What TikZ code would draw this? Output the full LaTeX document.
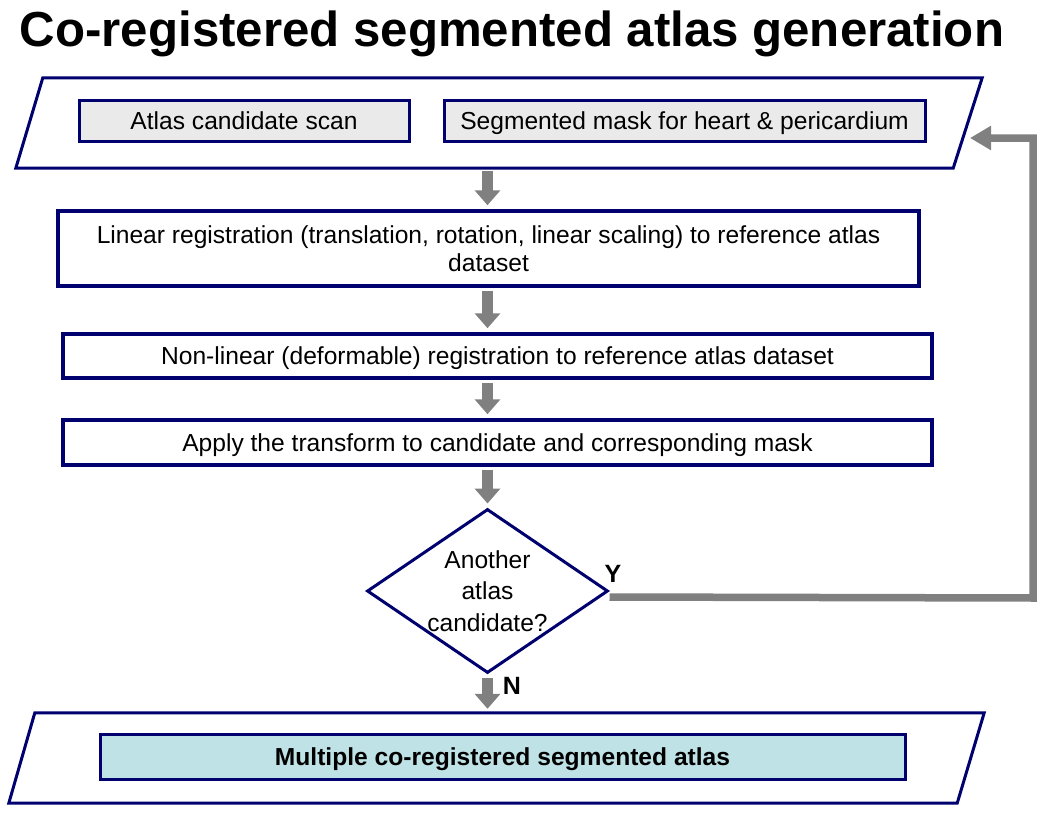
\documentclass[tikz,border=0pt]{standalone}
\usepackage{fontspec}
\setmainfont{Liberation Sans}
\usetikzlibrary{shapes.geometric,arrows.meta}
\definecolor{navy}{RGB}{0,0,110}
\definecolor{arrgray}{RGB}{128,128,128}
\definecolor{boxgray}{RGB}{234,234,234}
\definecolor{resteal}{RGB}{190,226,229}
\begin{document}
\begin{tikzpicture}[x=1pt,y=-1pt,
  txt/.style={font=\fontsize{24.6}{28}\selectfont},
  oneline/.style={text height=17.6pt, text depth=0pt},
  box/.style={draw=navy, line width=3.5pt, fill=white, inner sep=0pt, align=center, txt},
  inbox/.style={draw=navy, line width=3pt, fill=boxgray, inner sep=0pt, align=center, txt, oneline},
  paraframe/.style={draw=none, inner sep=0pt},
  paraline/.style={draw=navy, line width=3pt, line join=miter},
  flow/.style={draw=arrgray, line width=11pt, -{Triangle[width=25pt,length=15pt]}, shorten <=3pt, shorten >=4pt},
  loopline/.style={draw=arrgray, line width=7.5pt, -{Triangle[width=23pt,length=21pt]}},
  yn/.style={font=\bfseries\fontsize{25}{25}\selectfont}]
\useasboundingbox (0,0) rectangle (1050,816);

\node[font=\bfseries\fontsize{49.2}{50}\selectfont, anchor=base] (title) at (512,47) {Co-registered segmented atlas generation};

\node[paraframe, minimum width=966pt, minimum height=90pt] (top) at (499,123) {};
\draw[paraline] ([xshift=27pt]top.north west) -- (top.north east) -- ([xshift=-29pt]top.south east) -- (top.south west) -- cycle;
\node[inbox, minimum width=330pt, minimum height=41pt] (scan) at (244,120.5) {Atlas candidate scan};
\node[inbox, minimum width=481pt, minimum height=41pt] (mask) at (684.5,120.5) {Segmented mask for heart \& pericardium};

\node[box, minimum width=861pt, minimum height=75pt] (lin) at (488.5,248.5) {Linear registration (translation, rotation, linear scaling) to reference atlas\\dataset};
\node[box, oneline, minimum width=869pt, minimum height=44pt] (nonlin) at (497.5,356) {Non-linear (deformable) registration to reference atlas dataset};
\node[box, oneline, minimum width=869pt, minimum height=45pt] (apply) at (497.5,442.5) {Apply the transform to candidate and corresponding mask};

\node[diamond, draw=navy, line width=3pt, fill=white, inner sep=0pt, minimum width=241pt, minimum height=164pt] (d) at (487.5,591) {};
\node[align=center, font=\fontsize{24.6}{31.5}\selectfont] (dtext) at (d.center) {Another\\atlas\\candidate?};

\node[paraframe, minimum width=975pt, minimum height=90pt] (bot) at (496.5,758) {};
\draw[paraline] ([xshift=26pt]bot.north west) -- (bot.north east) -- ([xshift=-27pt]bot.south east) -- (bot.south west) -- cycle;
\node[inbox, fill=resteal, minimum width=805pt, minimum height=45pt, font=\bfseries\fontsize{24.6}{28}\selectfont] (res) at (502.5,756.5) {Multiple co-registered segmented atlas};

\draw[flow] (top.south -| d.north) -- (lin.north -| d.north);
\draw[flow] (lin.south -| d.north) -- (nonlin.north -| d.north);
\draw[flow] (nonlin.south -| d.north) -- (apply.north -| d.north);
\draw[flow] (apply.south -| d.north) -- (d.north);
\draw[flow] (d.south) -- (bot.north -| d.south);

\coordinate (yturn) at (1033,598);
\coordinate (ytop) at (1033,138);
\coordinate (yend) at (970,138);
\draw[loopline] ([yshift=-6pt]d.east) -- (yturn) -- (ytop) -- (yend);

\node[yn] (ylab) at (613,574) {Y};
\node[yn] (nlab) at (512,686) {N};
\end{tikzpicture}
\end{document}
